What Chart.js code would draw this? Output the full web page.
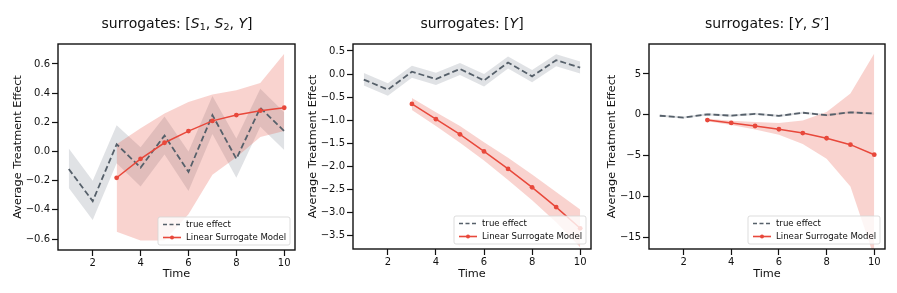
<!DOCTYPE html>
<html lang="en">
<head>
<meta charset="UTF-8">
<title>Surrogate models: average treatment effect</title>
<script src="https://cdn.jsdelivr.net/npm/chart.js"></script>
<style>
  body { margin: 0; background: #fff; font-family: 'DejaVu Sans', sans-serif; }
  .wrap { position: relative; width: 897px; height: 293px; overflow: hidden; }
  canvas { position: absolute; top: 0; }
  .title {
    position: absolute; top: 13px; width: 240px; margin-left: -120px;
    text-align: center; font-size: 14px; line-height: 20px; color: #111; white-space: nowrap;
  }
  .title i { font-style: oblique; }
  .title sub { font-size: 9.5px; vertical-align: -2px; line-height: 0; }
</style>
</head>
<body>
<div class="wrap">
  <canvas id="p1" width="299" height="293" style="left:0px"></canvas>
  <canvas id="p2" width="299" height="293" style="left:299px"></canvas>
  <canvas id="p3" width="299" height="293" style="left:598px"></canvas>
  <div class="title" style="left:177px">surrogates: [<i>S</i><sub>1</sub>, <i>S</i><sub>2</sub>, <i>Y</i>]</div>
  <div class="title" style="left:472px">surrogates: [<i>Y</i>]</div>
  <div class="title" style="left:767px">surrogates: [<i>Y</i>, <i>S</i>′]</div>
</div>

<script>
// data
const seriesNames = ['true effect', 'Linear Surrogate Model'];
const time = [1, 2, 3, 4, 5, 6, 7, 8, 9, 10];
const modelTime = [3, 4, 5, 6, 7, 8, 9, 10];

const trueEffect = [-0.12, -0.34, 0.05, -0.11, 0.11, -0.14, 0.25, -0.05, 0.30, 0.14];
const trueUpper  = [0.02, -0.20, 0.18, 0.03, 0.24, 0.00, 0.38, 0.09, 0.43, 0.27];
const trueLower  = [-0.25, -0.47, -0.08, -0.24, -0.02, -0.27, 0.12, -0.18, 0.17, 0.01];

// surrogates: [S1, S2, Y]
const model1      = [-0.18, -0.05, 0.06, 0.14, 0.21, 0.25, 0.28, 0.30];
const model1Upper = [0.05, 0.16, 0.26, 0.34, 0.39, 0.42, 0.47, 0.67];
const model1Lower = [-0.55, -0.61, -0.61, -0.43, -0.16, -0.04, 0.10, 0.14];

// surrogates: [Y]
const model2      = [-0.65, -0.98, -1.31, -1.68, -2.06, -2.46, -2.89, -3.35];
const model2Upper = [-0.52, -0.83, -1.13, -1.48, -1.82, -2.18, -2.56, -2.94];
const model2Lower = [-0.78, -1.13, -1.49, -1.88, -2.30, -2.74, -3.22, -3.76];

// surrogates: [Y, S']
const model3      = [-0.65, -1.0, -1.38, -1.78, -2.25, -2.88, -3.67, -4.9];
const model3Upper = [-0.5, -0.75, -0.9, -1.0, -0.7, 0.35, 2.6, 7.5];
const model3Lower = [-0.8, -1.25, -1.8, -2.45, -3.6, -5.4, -8.8, -17.5];

const xTicks = [2, 4, 6, 8, 10];
const yTicks1 = [-0.6, -0.4, -0.2, 0.0, 0.2, 0.4, 0.6];
const yTicks2 = [-3.5, -3.0, -2.5, -2.0, -1.5, -1.0, -0.5, 0.0, 0.5];
const yTicks3 = [-15, -10, -5, 0, 5];

const INK = '#111';
const TRUE_COLOR = '#56606a';
const TRUE_BAND = 'rgba(130,140,150,0.25)';
const MODEL_COLOR = '#e8483b';
const MODEL_BAND = 'rgba(230,80,65,0.25)';
const FONT = 'DejaVu Sans';

function pts(xs, ys) {
    return xs.map((x, i) => ({ x: x, y: ys[i] }));
}

function fmt(v, decimals) {
    return v.toFixed(decimals).replace('-', '\u2212');
}

// frame around the plot area and a matplotlib-like legend in the lower right corner
const frameAndLegend = {
    id: 'frameAndLegend',
    afterDatasetsDraw(chart) {
        const { ctx, chartArea: a } = chart;
        const w = 132, h = 28;
        const lx = a.right - 5 - w, ly = a.bottom - 5 - h;
        ctx.save();
        ctx.beginPath();
        ctx.roundRect(lx, ly, w, h, 2);
        ctx.fillStyle = 'rgba(255,255,255,0.8)';
        ctx.fill();
        ctx.strokeStyle = '#d4d4d4';
        ctx.lineWidth = 0.8;
        ctx.stroke();

        const r1 = ly + 7.5, r2 = ly + 20.5;
        ctx.lineWidth = 1.6;
        ctx.strokeStyle = TRUE_COLOR;
        ctx.setLineDash([4, 2.5]);
        ctx.beginPath(); ctx.moveTo(lx + 5, r1); ctx.lineTo(lx + 23, r1); ctx.stroke();
        ctx.setLineDash([]);
        ctx.strokeStyle = MODEL_COLOR;
        ctx.beginPath(); ctx.moveTo(lx + 5, r2); ctx.lineTo(lx + 23, r2); ctx.stroke();
        ctx.fillStyle = MODEL_COLOR;
        ctx.beginPath(); ctx.arc(lx + 14, r2, 2, 0, Math.PI * 2); ctx.fill();

        ctx.fillStyle = INK;
        ctx.font = '8.6px "' + FONT + '"';
        ctx.textBaseline = 'middle';
        ctx.fillText(seriesNames[0], lx + 28, r1);
        ctx.fillText(seriesNames[1], lx + 28, r2);

        ctx.strokeStyle = INK;
        ctx.lineWidth = 1.4;
        ctx.strokeRect(a.left, a.top, a.right - a.left, a.bottom - a.top);
        ctx.restore();
    }
};

function makePanel(id, p) {
    const ctx = document.getElementById(id).getContext('2d');
    const tickGrid = {
        display: true, drawOnChartArea: false, drawTicks: true,
        tickLength: 6, tickColor: INK, tickWidth: 1.2
    };
    new Chart(ctx, {
        type: 'line',
        data: {
            datasets: [
                { data: pts(time, trueUpper), borderWidth: 0, pointRadius: 0, fill: false, order: 4 },
                { data: pts(time, trueLower), borderWidth: 0, pointRadius: 0, fill: '-1', backgroundColor: TRUE_BAND, order: 4 },
                { data: pts(modelTime, p.upper), borderWidth: 0, pointRadius: 0, fill: false, order: 3 },
                { data: pts(modelTime, p.lower), borderWidth: 0, pointRadius: 0, fill: '-1', backgroundColor: MODEL_BAND, order: 3 },
                { label: seriesNames[0], data: pts(time, trueEffect), borderColor: TRUE_COLOR, borderWidth: 1.8,
                  borderDash: [6, 3], pointRadius: 0, fill: false, order: 1 },
                { label: seriesNames[1], data: pts(modelTime, p.model), borderColor: MODEL_COLOR, borderWidth: 1.5,
                  pointRadius: 2.4, pointBackgroundColor: MODEL_COLOR, pointBorderWidth: 0, fill: false, order: 0 }
            ]
        },
        options: {
            responsive: false,
            animation: false,
            devicePixelRatio: 1,
            layout: { padding: { left: 0, top: 44, right: p.rightPad, bottom: 0 } },
            elements: { line: { tension: 0 } },
            plugins: { legend: { display: false }, tooltip: { enabled: false } },
            scales: {
                x: {
                    type: 'linear', min: 0.55, max: 10.45,
                    afterBuildTicks: s => { s.ticks = xTicks.map(v => ({ value: v })); },
                    afterFit: s => { s.height = 293 - p.bottom; },
                    ticks: { autoSkip: false, maxRotation: 0, padding: 1, color: INK,
                             font: { family: FONT, size: 10 }, callback: v => String(v) },
                    grid: tickGrid,
                    border: { display: false },
                    title: { display: true, text: 'Time', color: INK,
                             font: { family: FONT, size: 11.3 }, padding: { top: 0, bottom: 12 } }
                },
                y: {
                    type: 'linear', min: p.yMin, max: p.yMax,
                    afterBuildTicks: s => { s.ticks = p.yTicks.map(v => ({ value: v })); },
                    afterFit: s => { s.width = p.yWidth; },
                    ticks: { autoSkip: false, padding: 2, color: INK,
                             font: { family: FONT, size: 10 }, callback: v => fmt(v, p.decimals) },
                    grid: tickGrid,
                    border: { display: false },
                    title: { display: true, text: 'Average Treatment Effect', color: INK,
                             font: { family: FONT, size: 11.3 }, padding: { top: p.titlePad, bottom: 0 } }
                }
            }
        },
        plugins: [frameAndLegend]
    });
}

makePanel('p1', { model: model1, upper: model1Upper, lower: model1Lower, yTicks: yTicks1,
                  yMin: -0.675, yMax: 0.737, decimals: 1, yWidth: 58, rightPad: 4, bottom: 250, titlePad: 11 });
makePanel('p2', { model: model2, upper: model2Upper, lower: model2Lower, yTicks: yTicks2,
                  yMin: -3.80, yMax: 0.652, decimals: 1, yWidth: 54, rightPad: 7, bottom: 249, titlePad: 7 });
makePanel('p3', { model: model3, upper: model3Upper, lower: model3Lower, yTicks: yTicks3,
                  yMin: -16.47, yMax: 8.68, decimals: 0, yWidth: 51, rightPad: 12, bottom: 249, titlePad: 7 });
</script>
</body>
</html>
